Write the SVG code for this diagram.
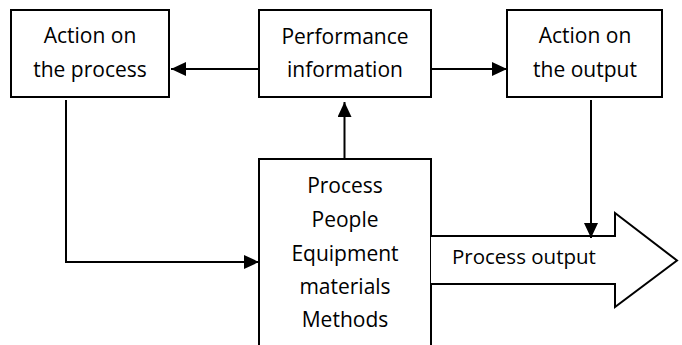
<svg xmlns="http://www.w3.org/2000/svg" width="682" height="345" viewBox="0 0 682 345">
<defs>
<style>
.box{fill:#fff;stroke:#000;stroke-width:2}
.ln{fill:none;stroke:#000;stroke-width:2}
text{font-family:"Open Sans","Liberation Sans",sans-serif;font-size:21px;fill:#000;text-anchor:middle}
</style>
<marker id="ah" markerUnits="userSpaceOnUse" markerWidth="16" markerHeight="14" viewBox="0 0 16 14" refX="15" refY="7" orient="auto">
<path d="M0,0 L15,7 L0,14 Z" fill="#000"/>
</marker>
</defs>
<rect width="682" height="345" fill="#fff"/>
<g id="connectors">
<line class="ln" x1="259" y1="69" x2="171" y2="69" marker-end="url(#ah)"/>
<line class="ln" x1="431" y1="69" x2="507" y2="69" marker-end="url(#ah)"/>
<line class="ln" x1="344.5" y1="159" x2="344.5" y2="102" marker-end="url(#ah)"/>
<polyline class="ln" points="66,100 66,262 259,262" marker-end="url(#ah)"/>
</g>
<g id="action-process">
<rect class="box" x="11" y="10" width="158" height="87"/>
<text x="90" y="43">Action on</text>
<text x="90" y="77">the process</text>
</g>
<g id="performance">
<rect class="box" x="259" y="10" width="172" height="87"/>
<text x="345" y="44">Performance</text>
<text x="345" y="77">information</text>
</g>
<g id="action-output">
<rect class="box" x="507" y="10" width="155" height="87"/>
<text x="585" y="43">Action on</text>
<text x="585" y="77">the output</text>
</g>
<g id="process">
<rect class="box" x="259" y="159" width="172" height="200"/>
<text x="345" y="193">Process</text>
<text x="345" y="227">People</text>
<text x="345" y="261">Equipment</text>
<text x="345" y="294">materials</text>
<text x="345" y="327">Methods</text>
</g>
<g id="process-output">
<path class="box" d="M431,236 H615 V213 L677,260.5 L615,307 V284 H431"/>
<text x="452" y="264" style="text-anchor:start;font-size:20.5px">Process output</text>
</g>
<g id="connector-output">
<line class="ln" x1="591" y1="100" x2="591" y2="238" marker-end="url(#ah)"/>
</g>
</svg>
